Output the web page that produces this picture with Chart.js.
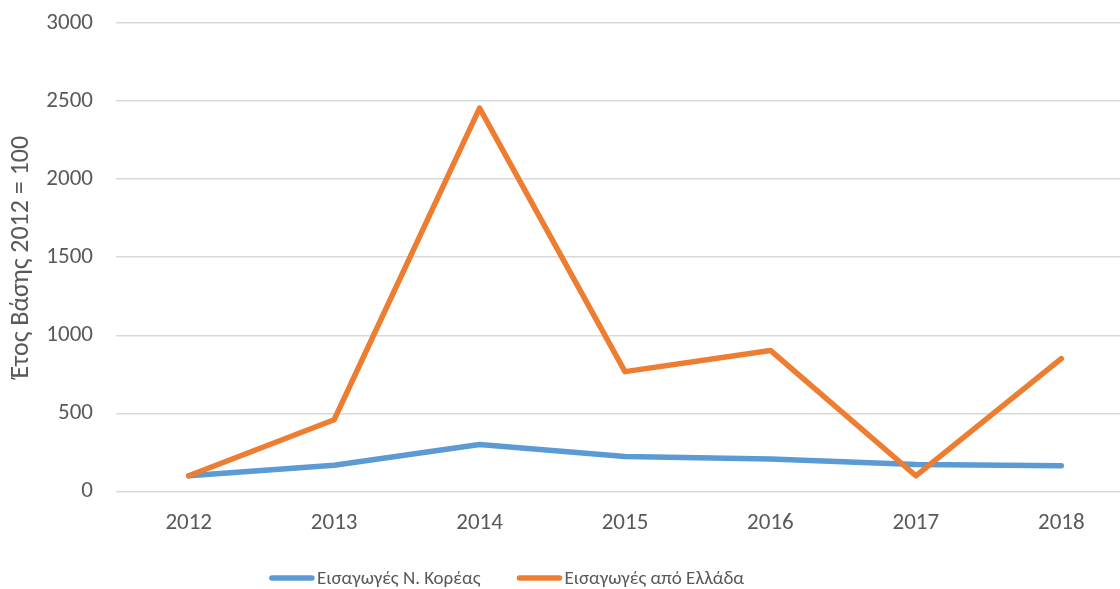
<!DOCTYPE html>
<html>
<head>
<meta charset="utf-8">
<script src="https://cdn.jsdelivr.net/npm/chart.js@4/dist/chart.umd.min.js"></script>
<style>
html,body{margin:0;padding:0;background:#fff;overflow:hidden;width:1120px;height:589px;}
#wrap{position:absolute;left:0;top:0;width:1134px;height:589px;}
</style>
</head>
<body>
<div id="wrap"><canvas id="c" width="1134" height="589"></canvas></div>
<script>
const years = ['2012','2013','2014','2015','2016','2017','2018'];
const koreaImports = [100, 167, 300, 223, 208, 172, 165];
const greeceImports = [100, 459, 2455, 767, 903, 100, 850];
const seriesNames = ['Εισαγωγές Ν. Κορέας', 'Εισαγωγές από Ελλάδα'];
const yAxisTitle = 'Έτος Βάσης 2012 = 100';

const FONT = "Carlito, Calibri, 'Open Sans', sans-serif";
const TXT = '#595959';

const legendPlugin = {
  id: 'bottomLegend',
  afterDraw(chart) {
    const ctx = chart.ctx;
    const size = 19;
    ctx.save();
    ctx.font = size + 'px ' + FONT;
    ctx.textBaseline = 'middle';
    ctx.textAlign = 'left';
    const boxW = 44, gapText = 3, gapItem = 37;
    const items = chart.data.datasets.map(ds => ({text: ds.label, color: ds.borderColor, w: ctx.measureText(ds.label).width}));
    const total = items.reduce((s, it) => s + boxW + gapText + it.w, 0) + gapItem * (items.length - 1);
    const cx = 507, y = 578;
    let x = cx - total / 2;
    items.forEach(it => {
      ctx.strokeStyle = it.color;
      ctx.lineWidth = 5.5;
      ctx.lineCap = 'round';
      ctx.beginPath();
      ctx.moveTo(x + 2, y);
      ctx.lineTo(x + boxW - 2, y);
      ctx.stroke();
      ctx.fillStyle = TXT;
      ctx.fillText(it.text, x + boxW + gapText, y + 1);
      x += boxW + gapText + it.w + gapItem;
    });
    ctx.restore();
  }
};

new Chart(document.getElementById('c'), {
  type: 'line',
  data: {
    labels: years,
    datasets: [
      {label: seriesNames[0], data: koreaImports, borderColor: '#5B9BD5', backgroundColor: '#5B9BD5',
       borderWidth: 5.5, pointRadius: 0, tension: 0, borderCapStyle: 'round', borderJoinStyle: 'round', order: 2},
      {label: seriesNames[1], data: greeceImports, borderColor: '#ED7D31', backgroundColor: '#ED7D31',
       borderWidth: 5.5, pointRadius: 0, tension: 0, borderCapStyle: 'round', borderJoinStyle: 'round', order: 1}
    ]
  },
  plugins: [legendPlugin],
  options: {
    responsive: false,
    animation: false,
    layout: {padding: {top: 23, right: 0, left: 0, bottom: 34}},
    plugins: {
      tooltip: {enabled: false},
      legend: {display: false}
    },
    scales: {
      x: {
        offset: true,
        grid: {display: false, drawTicks: false},
        border: {display: false},
        ticks: {font: {family: FONT, size: 23}, color: TXT, padding: 18, maxRotation: 0}
      },
      y: {
        min: 0, max: 3000,
        afterFit: (s) => { s.width = 116; s.paddingTop = 0; s.paddingBottom = 0; },
        grid: {color: '#d9d9d9', lineWidth: 1.5, drawTicks: false},
        border: {display: false},
        ticks: {stepSize: 500, font: {family: FONT, size: 23}, color: TXT, padding: 23,
                callback: (v) => String(v)},
        title: {display: true, text: yAxisTitle, font: {family: FONT, size: 26}, color: TXT, padding: {top: 6, bottom: 0}}
      }
    }
  }
});
</script>
</body>
</html>
